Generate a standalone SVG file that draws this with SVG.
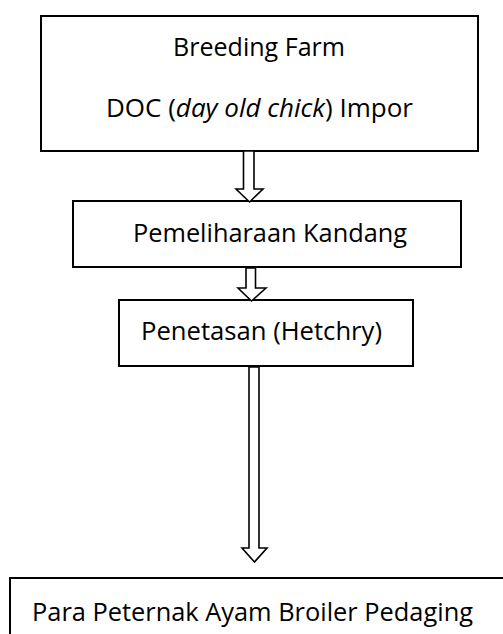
<svg xmlns="http://www.w3.org/2000/svg" width="503" height="634" viewBox="0 0 503 634">
<style>
.box{fill:#fff;stroke:#000;stroke-width:2}
.arr{fill:#fff;stroke:#000;stroke-width:1.6;stroke-linejoin:miter}
.lbl{font-family:"Open Sans","Noto Sans","Liberation Sans",sans-serif;font-size:25px;fill:#000}
</style>
<rect width="503" height="634" fill="#fff"/>
<g id="node-breeding">
<rect class="box" x="41" y="16" width="437" height="135"/>
<text class="lbl" x="173" y="56" textLength="172" lengthAdjust="spacingAndGlyphs">Breeding Farm</text>
<text class="lbl" x="106" y="117" textLength="307" lengthAdjust="spacingAndGlyphs">DOC (<tspan font-style="italic">day old chick</tspan>) Impor</text>
</g>
<g id="node-kandang">
<rect class="box" x="73" y="201" width="388" height="66"/>
<text class="lbl" x="133" y="242" textLength="274" lengthAdjust="spacingAndGlyphs">Pemeliharaan Kandang</text>
</g>
<g id="node-penetasan">
<rect class="box" x="119" y="300" width="294" height="66"/>
<text class="lbl" x="141" y="340" textLength="241" lengthAdjust="spacingAndGlyphs">Penetasan (Hetchry)</text>
</g>
<g id="node-peternak">
<rect class="box" x="10" y="578" width="520" height="100"/>
<text class="lbl" x="32" y="621" textLength="441" lengthAdjust="spacingAndGlyphs">Para Peternak Ayam Broiler Pedaging</text>
</g>
<g id="connectors">
<path class="arr" d="M243.5,151 L254,151 L254,189 L263,189 L249.5,202 L236,189 L243.5,189 Z"/>
<path class="arr" d="M246,268 L255.5,268 L255.5,288 L266,288 L251.5,301 L238,288 L246,288 Z"/>
<path class="arr" d="M249,367 L259,367 L259,548 L267,548 L254.5,562 L242,548 L249,548 Z"/>
</g>
</svg>
